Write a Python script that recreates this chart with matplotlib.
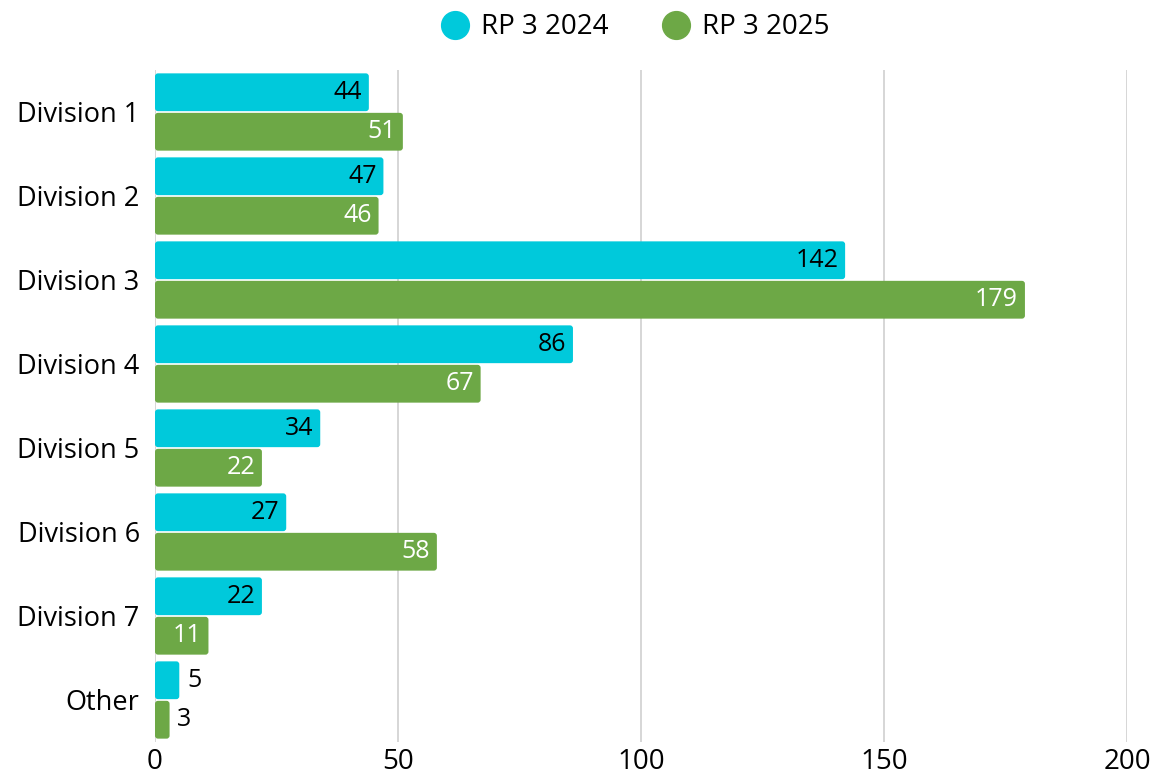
import matplotlib.pyplot as plt
from matplotlib.lines import Line2D
from matplotlib.patches import FancyBboxPatch
import numpy as np

plt.rcParams['font.family'] = ['Open Sans', 'DejaVu Sans']

categories = ['Division 1', 'Division 2', 'Division 3', 'Division 4',
              'Division 5', 'Division 6', 'Division 7', 'Other']
rp_2024 = [44, 47, 142, 86, 34, 27, 22, 5]
rp_2025 = [51, 46, 179, 67, 22, 58, 11, 3]
series_names = ['RP 3 2024', 'RP 3 2025']
x_ticks = [0, 50, 100, 150, 200]

CYAN = '#00C9DB'
GREEN = '#6DA846'

fig = plt.figure(figsize=(11.55, 7.78), dpi=100)
ax = fig.add_axes([155 / 1155, 1 - 742 / 778, (1127 - 155) / 1155, (742 - 70) / 778])

y = np.arange(len(categories))
h = 0.45
off = 0.235

# px per data unit, for rounded corners
px_x = (1127 - 155) / 200
px_y = (742 - 70) / len(categories)

for vals, yy, color, inside_color in [(rp_2024, y - off, CYAN, 'black'),
                                       (rp_2025, y + off, GREEN, 'white')]:
    bars = ax.barh(yy, vals, height=h, color=color, zorder=3)
    for b in bars:
        b.set_visible(False)
        rb = FancyBboxPatch((b.get_x(), b.get_y()), b.get_width(), b.get_height(),
                            boxstyle='round,pad=0,rounding_size=%f' % (3 / px_x),
                            mutation_aspect=px_x / px_y, facecolor=color,
                            edgecolor='none', zorder=3)
        ax.add_patch(rb)
    for v, yv in zip(vals, yy):
        if v >= 8:
            ax.text(v - 1.4, yv, str(v), ha='right', va='center',
                    fontsize=18, color=inside_color, zorder=4)
        else:
            ax.text(v + 1.6, yv, str(v), ha='left', va='center',
                    fontsize=18, color='black', zorder=4)

ax.set_xlim(0, 200)
ax.set_ylim(len(categories) - 0.5, -0.5)
ax.set_xticks(x_ticks)
ax.set_xticklabels([str(t) for t in x_ticks], fontsize=20)
ax.set_yticks(y)
ax.set_yticklabels(categories, fontsize=19.5)
ax.tick_params(length=0, pad=11)
ax.tick_params(axis='x', pad=4)
ax.grid(axis='x', color='#D0D0D0', linewidth=1.2, zorder=0)
for s in ax.spines.values():
    s.set_visible(False)

handles = [Line2D([], [], marker='o', linestyle='', markersize=20,
                  markerfacecolor=c, markeredgecolor=c) for c in (CYAN, GREEN)]
fig.legend(handles, series_names, loc='upper center', bbox_to_anchor=(0.55, 1.015),
           ncol=2, frameon=False, prop={'size': 20},
           handlelength=1.0, handletextpad=0.45, columnspacing=1.9)

fig.savefig('out.png', dpi=100)
